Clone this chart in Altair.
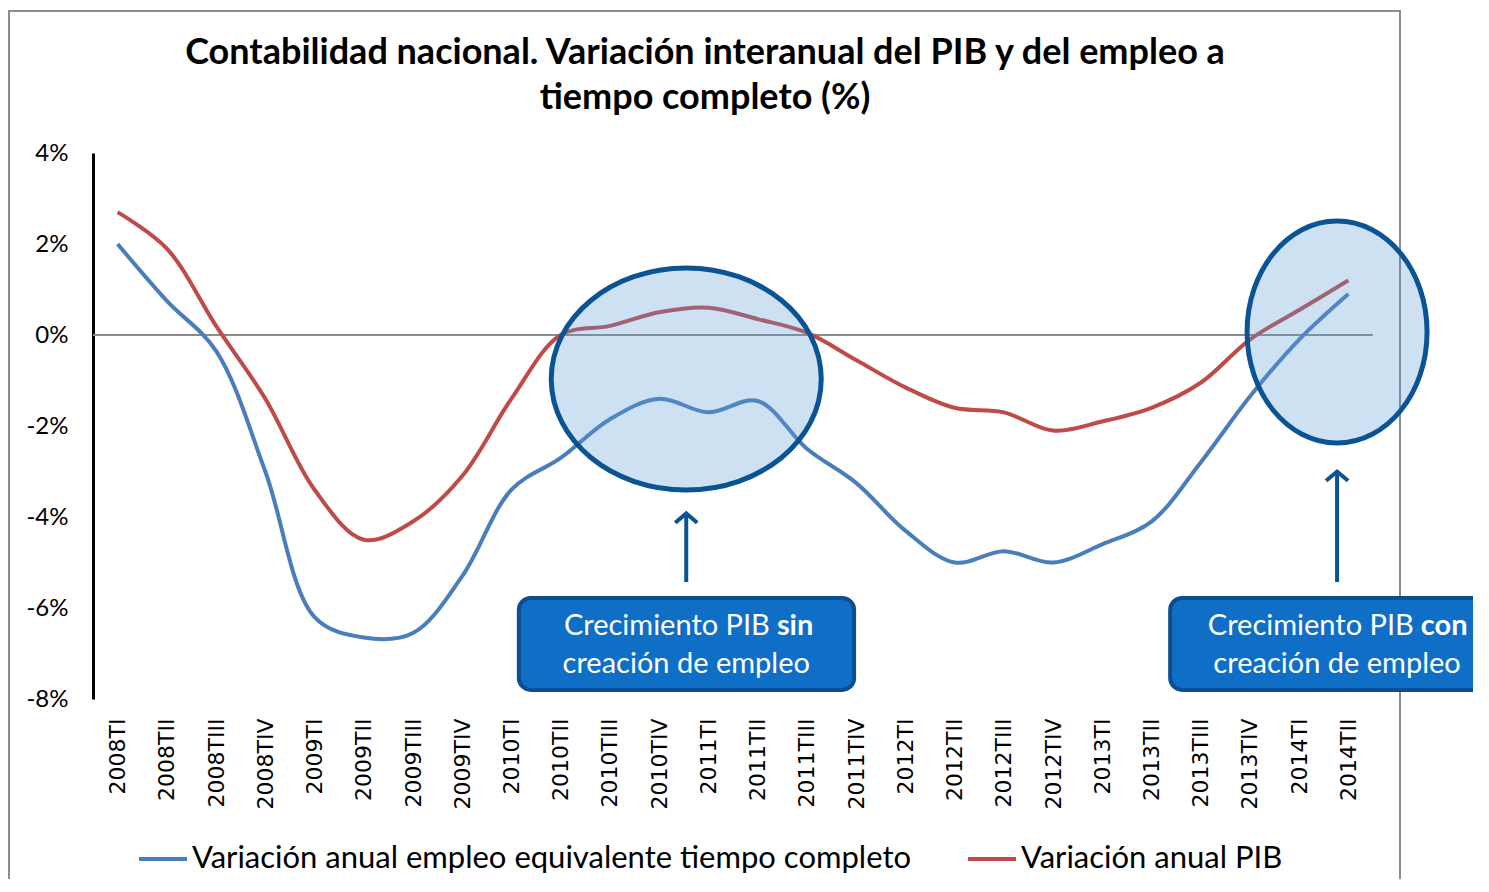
import altair as alt
import pandas as pd

quarters = ["2008TI", "2008TII", "2008TIII", "2008TIV", "2009TI", "2009TII", "2009TIII", "2009TIV",
            "2010TI", "2010TII", "2010TIII", "2010TIV", "2011TI", "2011TII", "2011TIII", "2011TIV",
            "2012TI", "2012TII", "2012TIII", "2012TIV", "2013TI", "2013TII", "2013TIII", "2013TIV",
            "2014TI", "2014TII"]
empleo = [2.0, 0.75, -0.35, -3.0, -6.2, -6.65, -6.55, -5.3, -3.4, -2.7, -1.85, -1.4, -1.7,
          -1.45, -2.5, -3.25, -4.3, -5.0, -4.75, -5.0, -4.6, -4.1, -2.8, -1.35, -0.1, 0.9]
pib = [2.7, 1.9, 0.2, -1.4, -3.4, -4.5, -4.1, -3.1, -1.4, 0.0, 0.2, 0.5, 0.6,
       0.35, 0.05, -0.55, -1.15, -1.6, -1.7, -2.1, -1.9, -1.6, -1.05, -0.1, 0.55, 1.2]
series = ["Variación anual empleo equivalente tiempo completo", "Variación anual PIB"]
y_ticks = [-8, -6, -4, -2, 0, 2, 4]
title_lines = ["Contabilidad nacional. Variación interanual del PIB y del empleo a",
               "tiempo completo (%)"]

BLUE = "#4a7ebb"
RED = "#be4b48"
DARK = "#0b5394"
FONT = "Lato"

rows = []
for i, q in enumerate(quarters):
    rows.append({"idx": i, "q": q, "value": empleo[i], "serie": series[0]})
    rows.append({"idx": i, "q": q, "value": pib[i], "serie": series[1]})
df = pd.DataFrame(rows)

label_expr = "[" + ",".join("'%s'" % q for q in quarters) + "][datum.value]"

xscale = alt.Scale(domain=[-0.5, 25.5], nice=False, zero=False)
yscale = alt.Scale(domain=[-8, 4], nice=False, zero=False)

x_axis = alt.Axis(values=list(range(len(quarters))), labelExpr=label_expr, labelAngle=270,
                  labelAlign="right", labelBaseline="middle", labelPadding=19,
                  domain=False, ticks=False, grid=False, title=None,
                  labelFont="DejaVu Sans", labelFontSize=22, labelColor="black")
y_axis = alt.Axis(values=y_ticks, labelExpr="datum.value + '%'", ticks=False, grid=False,
                  domainColor="black", domainWidth=3, labelPadding=25, labelFontSize=24,
                  labelFont=FONT, labelColor="black", title=None)

border = alt.Chart(pd.DataFrame({"a": [0]})).mark_rect(fillOpacity=0, stroke="#8c8c8c", strokeWidth=2).encode(
    x=alt.value(-84), x2=alt.value(1307), y=alt.value(-142), y2=alt.value(760))

title1 = alt.Chart(pd.DataFrame({"t": [title_lines[0]]})).mark_text(
    align="center", baseline="middle", font=FONT, fontSize=36, fontWeight="bold", color="black").encode(
    x=alt.value(612), y=alt.value(-100), text="t:N")
title2 = alt.Chart(pd.DataFrame({"t": [title_lines[1]]})).mark_text(
    align="center", baseline="middle", font=FONT, fontSize=36, fontWeight="bold", color="black").encode(
    x=alt.value(612), y=alt.value(-55), text="t:N")

zero = alt.Chart(pd.DataFrame({"v": [0]})).mark_rule(color="#8c8c8c", strokeWidth=2).encode(
    y=alt.Y("v:Q", scale=yscale, axis=y_axis))

lines = alt.Chart(df).mark_line(strokeWidth=4, interpolate="catmull-rom").encode(
    x=alt.X("idx:Q", scale=xscale, axis=x_axis),
    y=alt.Y("value:Q", scale=yscale, axis=y_axis),
    color=alt.Color("serie:N", scale=alt.Scale(domain=series, range=[BLUE, RED]),
                    legend=alt.Legend(orient="none", legendX=44, legendY=680, direction="horizontal",
                                      title=None, symbolType="stroke", symbolSize=2304,
                                      symbolStrokeWidth=4, labelFontSize=31, labelFont=FONT,
                                      labelColor="black", labelOffset=3, columnPadding=48,
                                      labelLimit=1000)),
    detail="serie:N",
)


def ellipse_path(e):
    k = 0.5523
    return ("M 1 0 C 1 {a} {k} {e} 0 {e} C {mk} {e} -1 {a} -1 0 "
            "C -1 {ma} {mk} {me} 0 {me} C {k} {me} 1 {ma} 1 0 Z").format(
        a=round(k * e, 4), k=k, e=e, mk=-k, ma=round(-k * e, 4), me=-e)


# annotation geometry (centres in data units)
ell_x = [11.55, 24.77]
ell_y = [-0.967, 0.066]
ell_rx_px = [135, 90]
ell_ry_px = [111, 111]

ellipses = []
for cx, cy, rx, ry in zip(ell_x, ell_y, ell_rx_px, ell_ry_px):
    ellipses.append(
        alt.Chart(pd.DataFrame({"x": [cx], "y": [cy]})).mark_point(
            shape=ellipse_path(round(ry / rx, 4)), size=(2 * rx) ** 2, filled=True,
            fill="#5b9bd5", fillOpacity=0.3, stroke=DARK, strokeWidth=5, strokeOpacity=1, opacity=1
        ).encode(x=alt.X("x:Q", scale=xscale), y=alt.Y("y:Q", scale=yscale))
    )

arr_df = pd.DataFrame({"x": ell_x, "y0": [-5.43, -5.43], "y1": [-3.92, -3.0]})
arrows = alt.Chart(arr_df).mark_rule(strokeWidth=4, color=DARK).encode(
    x=alt.X("x:Q", scale=xscale), y=alt.Y("y0:Q", scale=yscale), y2="y1:Q")
heads = alt.Chart(arr_df).mark_point(shape="M -1 0.85 L 0 0 L 1 0.85", size=484, filled=False,
                                     stroke=DARK, strokeWidth=4, opacity=1).encode(
    x=alt.X("x:Q", scale=xscale), y=alt.Y("y1:Q", scale=yscale))

box_df = pd.DataFrame({"x0": [8.15, 21.38], "x1": [14.96, 28.2], "y0": [-5.78, -5.78], "y1": [-7.8, -7.8]})
boxes = alt.Chart(box_df).mark_rect(cornerRadius=12, fill="#0f6fc6", stroke="#0b4f91", strokeWidth=4).encode(
    x=alt.X("x0:Q", scale=xscale), x2="x1:Q", y=alt.Y("y0:Q", scale=yscale), y2="y1:Q")

split_x = [13.31, 26.39]
t1 = alt.Chart(pd.DataFrame({"x": split_x, "y": [-6.40, -6.40], "t": ["Crecimiento PIB", "Crecimiento PIB"]})).mark_text(
    align="right", baseline="middle", dx=-3, font=FONT, fontSize=29, color="white").encode(
    x=alt.X("x:Q", scale=xscale), y=alt.Y("y:Q", scale=yscale), text="t:N")
t1b = alt.Chart(pd.DataFrame({"x": split_x, "y": [-6.40, -6.40], "t": ["sin", "con"]})).mark_text(
    align="left", baseline="middle", dx=4, font=FONT, fontSize=29, fontWeight="bold", color="white").encode(
    x=alt.X("x:Q", scale=xscale), y=alt.Y("y:Q", scale=yscale), text="t:N")
t2 = alt.Chart(pd.DataFrame({"x": ell_x, "y": [-7.23, -7.23], "t": ["creación de empleo", "creación de empleo"]})).mark_text(
    align="center", baseline="middle", font=FONT, fontSize=29, color="white").encode(
    x=alt.X("x:Q", scale=xscale), y=alt.Y("y:Q", scale=yscale), text="t:N")

chart = alt.layer(border, title1, title2, zero, lines, *ellipses, arrows, heads, boxes, t1, t1b, t2).properties(
    width=1280, height=546,
    padding={"left": 85, "top": 145, "right": 100, "bottom": 180},
    autosize=alt.AutoSizeParams(type="none"),
    background="white",
).configure_view(stroke="transparent", strokeWidth=0)

chart.save("out.html", embed_options={"renderer": "svg", "actions": False})
